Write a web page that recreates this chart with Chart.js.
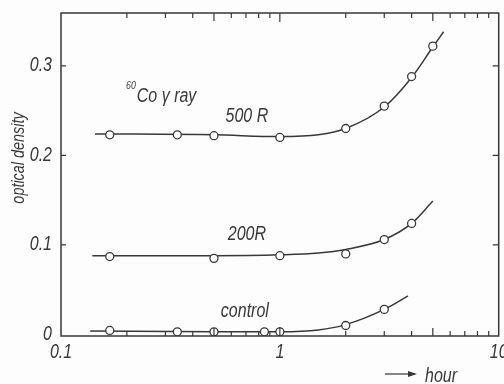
<!DOCTYPE html>
<html>
<head>
<meta charset="utf-8">
<script src="https://cdn.jsdelivr.net/npm/chart.js@4.4.0/dist/chart.umd.min.js"></script>
<style>
  html, body { margin: 0; padding: 0; background: #fff; }
  #wrap { width: 504px; height: 384px; }
</style>
</head>
<body>
<div id="wrap"><canvas id="myChart"></canvas></div>
<script>
// measured points (hours after irradiation, optical density)
const hours500 = [0.167, 0.34, 0.5, 1, 2, 3, 4, 5]
const od500 = [0.223, 0.223, 0.222, 0.220, 0.230, 0.255, 0.288, 0.322]
const hours200 = [0.167, 0.5, 1, 2, 3, 4]
const od200 = [0.087, 0.085, 0.088, 0.090, 0.106, 0.124]
const hoursCtrl = [0.167, 0.34, 0.5, 0.85, 1, 2, 3]
const odCtrl = [0.0045, 0.003, 0.003, 0.003, 0.003, 0.010, 0.028]

// hand drawn curves through the points
const curveHours500 = [0.143, 0.5, 1, 1.5, 2, 3, 4, 5, 5.6]
const curveOd500 = [0.224, 0.223, 0.221, 0.223, 0.230, 0.254, 0.287, 0.321, 0.338]
const curveHours200 = [0.139, 0.5, 1, 1.5, 2, 3, 4, 5]
const curveOd200 = [0.088, 0.088, 0.089, 0.091, 0.095, 0.106, 0.124, 0.149]
const curveHoursCtrl = [0.136, 0.5, 1, 1.5, 2, 3, 3.85]
const curveOdCtrl = [0.004, 0.003, 0.003, 0.005, 0.011, 0.028, 0.043]

const xTickValues = [0.1, 1, 10]
const xTickLabels = ['0.1', '1', '10']
const yTickValues = [0, 0.1, 0.2, 0.3]
const yTickLabels = ['0', '0.1', '0.2', '0.3']

const INK = '#383838'
const FONT = '"Liberation Sans", Arial, sans-serif'

const toXY = (xs, ys) => xs.map((x, i) => ({ x: x, y: ys[i] }))

const pointSet = (xs, ys) => ({
  data: toXY(xs, ys),
  showLine: false,
  pointRadius: 4,
  pointBackgroundColor: '#fff',
  pointBorderColor: INK,
  pointBorderWidth: 1.3,
  order: 0,
})

const curveSet = (xs, ys) => ({
  data: toXY(xs, ys),
  showLine: true,
  borderColor: INK,
  borderWidth: 1.5,
  pointRadius: 0,
  cubicInterpolationMode: 'monotone',
  order: 1,
})

// italic text squeezed sideways to get a narrow face
const drawText = (ctx, str, x, y, size, align, rotated) => {
  ctx.save()
  ctx.translate(x, y)
  if (rotated) ctx.rotate(-Math.PI / 2)
  ctx.scale(0.8, 1)
  ctx.font = 'italic ' + size + 'px ' + FONT
  ctx.textAlign = align
  ctx.textBaseline = 'middle'
  ctx.fillText(str, 0, 0)
  ctx.restore()
}

// frame with inward tick marks on all four sides, tick labels and free text
const framePlugin = {
  id: 'frame',
  beforeDraw(chart) {
    const ctx = chart.ctx
    ctx.save()
    ctx.fillStyle = '#fdfdfd'
    ctx.fillRect(0, 0, chart.width, chart.height)
    ctx.restore()
  },
  afterDraw(chart) {
    const ctx = chart.ctx
    const a = chart.chartArea
    const xs = chart.scales.x
    const ys = chart.scales.y
    ctx.save()
    ctx.strokeStyle = INK
    ctx.fillStyle = INK
    ctx.lineWidth = 1.5
    ctx.strokeRect(a.left, a.top, a.right - a.left, a.bottom - a.top)

    ctx.lineWidth = 1.2
    for (let d = 0.1; d < 10; d *= 10) {
      for (let m = 1; m <= 9; m++) {
        if (m === 1 && d < 0.5) continue
        const px = xs.getPixelForValue(d * m)
        let len = 5
        if (m === 5) len = 8
        if (m === 1) len = 9
        ctx.beginPath()
        ctx.moveTo(px, a.bottom)
        ctx.lineTo(px, a.bottom - len)
        ctx.moveTo(px, a.top)
        ctx.lineTo(px, a.top + len)
        ctx.stroke()
      }
    }
    yTickValues.forEach((v) => {
      if (v === 0) return
      const py = ys.getPixelForValue(v)
      ctx.beginPath()
      ctx.moveTo(a.left, py)
      ctx.lineTo(a.left + 5, py)
      ctx.moveTo(a.right, py)
      ctx.lineTo(a.right - 6, py)
      ctx.stroke()
    })

    // tick labels
    xTickValues.forEach((v, i) => {
      drawText(ctx, xTickLabels[i], xs.getPixelForValue(v), a.bottom + 16, 20, 'center')
    })
    yTickValues.forEach((v, i) => {
      drawText(ctx, yTickLabels[i], a.left - 9, ys.getPixelForValue(v), 20, 'right')
    })

    // curve labels
    drawText(ctx, '500 R', xs.getPixelForValue(0.707), ys.getPixelForValue(0.244), 20, 'center')
    drawText(ctx, '200R', xs.getPixelForValue(0.707), ys.getPixelForValue(0.112), 20, 'center')
    drawText(ctx, 'control', xs.getPixelForValue(0.692), ys.getPixelForValue(0.026), 20, 'center')

    // isotope label with superscript mass number
    const cx = xs.getPixelForValue(0.222)
    const cy = ys.getPixelForValue(0.266)
    drawText(ctx, '60', cx - 1, cy - 10, 11, 'right')
    drawText(ctx, 'Co γ ray', cx, cy, 20, 'left')

    // axis titles
    drawText(ctx, 'optical density', 19, 158, 18, 'center', true)
    drawText(ctx, 'hour', 425, 376, 20, 'left')
    ctx.lineWidth = 1.2
    ctx.beginPath()
    ctx.moveTo(385, 374)
    ctx.lineTo(415, 374)
    ctx.stroke()
    ctx.beginPath()
    ctx.moveTo(417, 374)
    ctx.lineTo(408, 371)
    ctx.lineTo(408, 377)
    ctx.closePath()
    ctx.fill()
    ctx.restore()
  },
}

const ctx = document.getElementById('myChart').getContext('2d')
const myChart = new Chart(ctx, {
  type: 'scatter',
  data: {
    datasets: [
      pointSet(hours500, od500),
      pointSet(hours200, od200),
      pointSet(hoursCtrl, odCtrl),
      curveSet(curveHours500, curveOd500),
      curveSet(curveHours200, curveOd200),
      curveSet(curveHoursCtrl, curveOdCtrl),
    ],
  },
  options: {
    responsive: true,
    maintainAspectRatio: false,
    animation: false,
    layout: { padding: { top: 13, right: 5, left: 0, bottom: 0 } },
    plugins: { legend: { display: false }, tooltip: { enabled: false } },
    scales: {
      x: {
        type: 'logarithmic',
        min: 0.1,
        max: 10,
        grid: { display: false },
        border: { display: false },
        ticks: { display: false },
        afterFit: (scale) => {
          scale.height = 48
          scale.paddingLeft = 0
          scale.paddingRight = 0
        },
      },
      y: {
        min: -0.0017,
        max: 0.359,
        grid: { display: false },
        border: { display: false },
        ticks: { display: false },
        afterFit: (scale) => {
          scale.width = 61
          scale.paddingTop = 0
          scale.paddingBottom = 0
        },
      },
    },
  },
  plugins: [framePlugin],
})
</script>
</body>
</html>
